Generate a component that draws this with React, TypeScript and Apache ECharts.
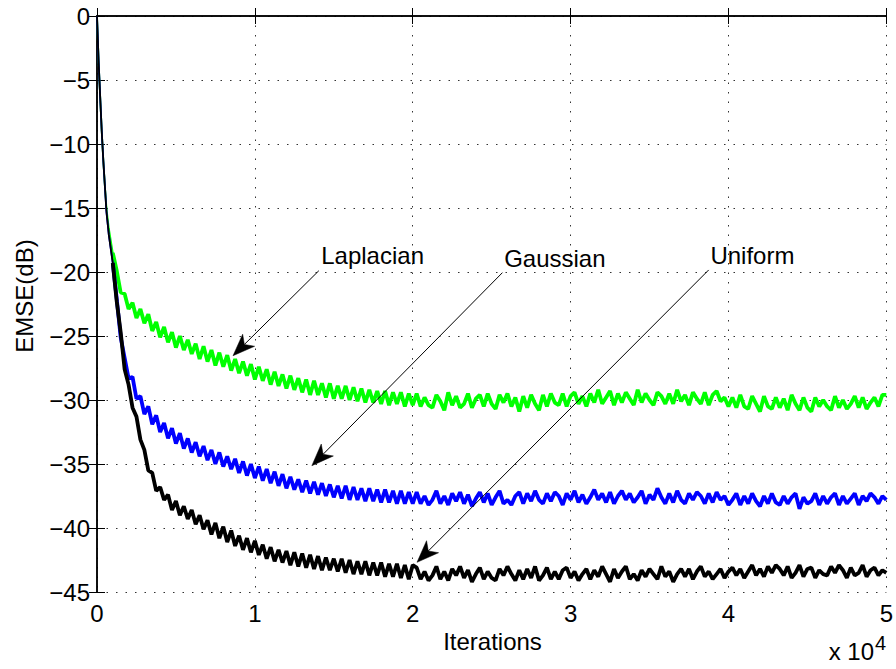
import { useEffect, useRef } from "react";
import * as echarts from "echarts";

// Iterations at which the learning curves were recorded: a few early points,
// then one point every 250 iterations up to 50 000.
const earlyIterations = [0, 100, 200, 300, 400, 500, 600, 750, 1000];
const sampleStep = 250;

// EMSE (dB) of the adaptive filter for the three input noise distributions.
const laplacianEmse = [
  0, -3.5, -6.3, -9.0, -11.3, -13.3, -15.0, -16.6, -18.5,
  -19.9, -21.6, -21.7, -22.9,
  -22.4, -23.6, -22.9, -24.0,
  -23.3, -24.6, -23.9, -25.1,
  -24.3, -25.5, -24.7, -25.9,
  -25.0, -26.1, -25.3, -26.4,
  -25.6, -26.8, -25.8, -27.0,
  -26.1, -27.3, -26.3, -27.4,
  -26.5, -27.7, -26.8, -27.9,
  -27.0, -28.1, -27.2, -28.4,
  -27.4, -28.5, -27.6, -28.8,
  -27.8, -28.9, -28.0, -29.1,
  -28.1, -29.2, -28.3, -29.4,
  -28.4, -29.6, -28.5, -29.6,
  -28.7, -29.8, -28.7, -29.9,
  -28.9, -29.9, -28.9, -30.0,
  -29.0, -30.1, -29.1, -30.2,
  -29.2, -30.2, -29.3, -30.3,
  -29.3, -30.4, -29.4, -30.3,
  -29.4, -30.5, -29.5, -30.4,
  -29.5, -30.5, -29.8, -30.4,
  -30.6, -29.6, -30.1, -30.8,
  -29.4, -30.4, -29.7, -30.6,
  -30.3, -29.5, -30.6, -29.9,
  -29.6, -30.5, -29.5, -30.3,
  -30.7, -29.6, -30.2, -29.5,
  -30.5, -29.8, -30.9, -29.7,
  -30.6, -29.6, -30.3, -30.8,
  -29.6, -30.5, -29.5, -30.2,
  -30.4, -29.5, -30.5, -29.7,
  -29.4, -30.3, -29.7, -30.5,
  -29.5, -30.2, -29.2, -30.3,
  -29.8, -29.3, -30.4, -29.5,
  -30.2, -29.4, -29.9, -30.4,
  -29.2, -30.2, -29.5, -30.0,
  -30.4, -29.4, -29.7, -30.3,
  -29.5, -30.3, -29.2, -30.1,
  -29.6, -30.4, -29.4, -29.9,
  -30.3, -29.4, -30.4, -29.6,
  -29.3, -30.1, -29.8, -30.5,
  -29.8, -30.6, -29.6, -30.5,
  -30.7, -29.7, -30.3, -30.9,
  -29.7, -30.5, -30.7, -29.8,
  -30.6, -29.9, -30.8, -29.6,
  -30.3, -30.8, -29.8, -30.6,
  -30.9, -29.8, -30.5, -30.0,
  -30.5, -30.8, -29.7, -30.6,
  -30.0, -30.7, -30.3, -29.7,
  -30.6, -29.8, -30.7, -30.2,
  -29.8, -30.5, -29.6, -29.6,
];

const gaussianEmse = [
  0, -3.5, -6.3, -9.0, -11.3, -13.3, -15.3, -17.1, -19.3,
  -22.1, -25.1, -26.7, -28.3,
  -28.2, -29.9, -29.7, -31.1,
  -30.5, -31.9, -31.2, -32.5,
  -31.8, -33.0, -32.2, -33.4,
  -32.6, -33.8, -33.0, -34.1,
  -33.3, -34.4, -33.6, -34.7,
  -33.9, -35.0, -34.1, -35.2,
  -34.4, -35.4, -34.6, -35.7,
  -34.8, -35.9, -35.0, -36.1,
  -35.2, -36.3, -35.4, -36.5,
  -35.6, -36.7, -35.8, -36.9,
  -36.0, -37.0, -36.2, -37.2,
  -36.3, -37.3, -36.4, -37.4,
  -36.5, -37.5, -36.6, -37.6,
  -36.7, -37.7, -36.7, -37.8,
  -36.8, -37.8, -36.9, -37.9,
  -36.9, -37.9, -37.0, -38.0,
  -37.0, -38.0, -37.1, -38.1,
  -37.1, -38.1, -37.2, -38.1,
  -37.2, -38.1, -37.5, -38.2,
  -37.8, -37.1, -38.1, -37.5,
  -38.2, -37.3, -37.9, -37.2,
  -38.1, -37.4, -38.3, -37.7,
  -37.2, -38.0, -37.3, -38.2,
  -37.6, -37.1, -38.1, -37.8,
  -38.2, -37.5, -37.2, -38.1,
  -37.3, -37.9, -37.1, -37.8,
  -38.1, -37.3, -37.9, -37.2,
  -37.5, -38.2, -37.3, -37.8,
  -37.1, -38.0, -37.4, -38.1,
  -37.6, -37.0, -37.8, -37.3,
  -38.0, -37.2, -38.1, -37.5,
  -37.1, -37.8, -37.3, -38.0,
  -37.6, -37.1, -38.1, -37.4,
  -37.8, -36.9, -37.6, -38.1,
  -37.3, -38.0, -37.1, -37.8,
  -38.1, -37.3, -37.8, -37.2,
  -37.5, -38.1, -37.3, -38.0,
  -37.2, -37.8, -37.5, -38.2,
  -37.8, -37.3, -38.2, -37.5,
  -38.1, -37.3, -37.9, -38.3,
  -37.5, -38.1, -37.3, -38.0,
  -38.2, -37.5, -38.1, -37.6,
  -37.3, -38.5, -37.6, -38.1,
  -37.9, -37.3, -38.2, -37.5,
  -38.1, -37.6, -37.3, -38.2,
  -37.5, -38.1, -37.7, -37.3,
  -38.2, -37.5, -37.9, -37.3,
  -37.6, -38.1, -37.5, -37.8,
];

const uniformEmse = [
  0, -3.5, -6.3, -9.0, -11.3, -13.3, -15.3, -17.1, -19.3,
  -22.3, -24.7, -27.6, -28.8,
  -30.6, -31.3, -33.1, -33.9,
  -35.5, -35.7, -37.1, -36.8,
  -37.8, -37.4, -38.6, -37.9,
  -39.0, -38.3, -39.3, -38.6,
  -39.7, -39.0, -40.1, -39.4,
  -40.5, -39.6, -40.8, -39.9,
  -41.1, -40.2, -41.4, -40.6,
  -41.7, -40.8, -41.9, -41.0,
  -42.1, -41.3, -42.4, -41.5,
  -42.6, -41.7, -42.7, -41.8,
  -42.9, -41.9, -43.0, -42.0,
  -43.1, -42.1, -43.2, -42.2,
  -43.3, -42.3, -43.3, -42.4,
  -43.4, -42.4, -43.5, -42.5,
  -43.6, -42.6, -43.6, -42.6,
  -43.7, -42.7, -43.7, -42.7,
  -43.8, -42.8, -43.8, -42.8,
  -43.9, -42.9, -44.0, -42.9,
  -43.1, -44.0, -43.4, -44.1,
  -43.7, -43.0, -44.0, -43.4,
  -44.1, -43.2, -43.7, -43.0,
  -43.9, -43.3, -44.2, -43.6,
  -43.1, -44.0, -43.4, -43.9,
  -44.1, -43.2, -43.7, -43.0,
  -43.6, -44.1, -43.3, -44.0,
  -43.2, -43.9, -43.0, -44.1,
  -43.7, -43.1, -44.0, -43.4,
  -44.0, -43.3, -43.1, -43.9,
  -43.4, -44.1, -43.6, -43.2,
  -44.0, -43.3, -43.8, -43.0,
  -43.6, -44.2, -43.2, -43.9,
  -43.4, -43.0, -44.0, -43.6,
  -44.1, -43.3, -43.8, -43.2,
  -43.6, -44.0, -43.0, -43.8,
  -43.4, -44.2, -43.6, -43.2,
  -43.8, -43.2, -44.0, -43.4,
  -43.0, -43.8, -43.4, -44.0,
  -43.6, -43.2, -43.9, -43.4,
  -43.1, -43.7, -43.2, -43.9,
  -43.4, -42.9, -43.7, -43.2,
  -43.8, -43.0, -43.5, -42.9,
  -43.2, -43.7, -43.0, -43.9,
  -43.5, -42.9, -43.8, -43.2,
  -43.1, -43.9, -43.3, -43.6,
  -43.7, -43.0, -43.5, -42.9,
  -43.3, -43.9, -43.1, -43.7,
  -43.5, -42.9, -43.8, -43.3,
  -43.1, -43.7, -43.3, -43.5,
];

const seriesNames = ["Laplacian", "Gaussian", "Uniform"];
const seriesColors = ["#00ff00", "#0000ff", "#000000"];

// Arrow annotations, in data coordinates: [iterations, EMSE dB].
const labelAnchors = [
  [14204, -18.71],
  [25790, -18.97],
  [38856, -18.71],
];
const arrowTails = [
  [14052, -19.9],
  [25683, -20.05],
  [38748, -19.84],
];
const arrowTips = [
  [8616, -26.54],
  [13610, -35.13],
  [20272, -42.68],
];

const FONT = "'Liberation Sans', Arial, Helvetica, sans-serif";

function withIterations(values: number[]): number[][] {
  const nEarly = earlyIterations.length;
  const last = earlyIterations[nEarly - 1];
  return values.map((v, i) => [
    i < nEarly ? earlyIterations[i] : last + (i - nEarly + 1) * sampleStep,
    v,
  ]);
}

export default function App() {
  const ref = useRef<HTMLDivElement>(null);

  useEffect(() => {
    if (!ref.current) return;
    const chart = echarts.init(ref.current, null, { renderer: "svg" });

    const tickLabel = { color: "#000", fontSize: 24, fontFamily: FONT };
    const gridDots = {
      show: true,
      lineStyle: { color: "#333", width: 1, type: [1.5, 8] as number[] },
    };
    const frame = { show: true, lineStyle: { color: "#000", width: 1.5 } };
    const innerTick = { show: true, inside: true, length: 8, lineStyle: { color: "#000", width: 1 } };

    const curves = [laplacianEmse, gaussianEmse, uniformEmse];
    const nEarly = earlyIterations.length;

    // Each curve: a thin stroke for the fast initial transient, then a
    // heavier stroke for the noisy steady-state part.
    const series: any[] = [];
    curves.forEach((vals, k) => {
      const pts = withIterations(vals);
      series.push({
        name: seriesNames[k],
        type: "line",
        data: pts.slice(0, nEarly + 1),
        showSymbol: false,
        symbol: "none",
        lineStyle: { color: seriesColors[k], width: 1.8 },
        z: 2 + k,
        silent: true,
      });
      series.push({
        name: seriesNames[k],
        type: "line",
        data: pts.slice(nEarly - 1),
        showSymbol: false,
        symbol: "none",
        lineStyle: { color: seriesColors[k], width: 3.8, join: "bevel" },
        z: 2 + k,
        silent: true,
      });
    });

    chart.setOption({
      animation: false,
      backgroundColor: "#fff",
      grid: { left: 97, right: 8, top: 16, bottom: 77, containLabel: false },
      xAxis: [
        {
          type: "value",
          min: 0,
          max: 50000,
          interval: 10000,
          position: "bottom",
          axisLine: frame,
          axisTick: innerTick,
          splitLine: gridDots,
          axisLabel: {
            ...tickLabel,
            margin: 9,
            formatter: (v: number) => String(v / 10000),
          },
        },
        {
          type: "value",
          min: 0,
          max: 50000,
          interval: 10000,
          position: "top",
          axisLine: frame,
          axisTick: innerTick,
          splitLine: { show: false },
          axisLabel: { show: false },
        },
      ],
      yAxis: [
        {
          type: "value",
          min: -45,
          max: 0,
          interval: 5,
          position: "left",
          axisLine: frame,
          axisTick: innerTick,
          splitLine: gridDots,
          axisLabel: {
            ...tickLabel,
            margin: 7,
            formatter: (v: number) => (v < 0 ? `\u2212${-v}` : `${v}`),
          },
        },
        {
          type: "value",
          min: -45,
          max: 0,
          interval: 5,
          position: "right",
          axisLine: frame,
          axisTick: innerTick,
          splitLine: { show: false },
          axisLabel: { show: false },
        },
      ],
      series,
    });

    // Annotation arrows and their labels, placed from data coordinates.
    const graphics: any[] = [];
    seriesNames.forEach((name, k) => {
      const tail = chart.convertToPixel({ seriesIndex: 0 }, arrowTails[k]) as number[];
      const tip = chart.convertToPixel({ seriesIndex: 0 }, arrowTips[k]) as number[];
      const anchor = chart.convertToPixel({ seriesIndex: 0 }, labelAnchors[k]) as number[];
      const dx = tip[0] - tail[0];
      const dy = tip[1] - tail[1];
      const len = Math.hypot(dx, dy);
      const ux = dx / len;
      const uy = dy / len;
      const nx = -uy;
      const ny = ux;
      const headLen = 22;
      const notch = 16;
      const halfW = 8.5;
      const back = [tip[0] - ux * headLen, tip[1] - uy * headLen];
      const notchPt = [tip[0] - ux * notch, tip[1] - uy * notch];
      graphics.push({
        type: "line",
        z: 10,
        shape: { x1: tail[0], y1: tail[1], x2: notchPt[0], y2: notchPt[1] },
        style: { stroke: "#000", lineWidth: 1 },
      });
      graphics.push({
        type: "polygon",
        z: 10,
        shape: {
          points: [
            tip,
            [back[0] + nx * halfW, back[1] + ny * halfW],
            notchPt,
            [back[0] - nx * halfW, back[1] - ny * halfW],
          ],
        },
        style: { fill: "#000", stroke: "#000", lineWidth: 0.5 },
      });
      graphics.push({
        type: "text",
        z: 10,
        x: anchor[0],
        y: anchor[1],
        style: {
          text: name,
          fill: "#000",
          fontSize: 24,
          fontFamily: FONT,
          align: "left",
          verticalAlign: "middle",
        },
      });
    });

    // Axis titles and the x-axis exponent.
    graphics.push(
      {
        type: "text",
        x: 492.5,
        y: 641.7,
        style: { text: "Iterations", fill: "#000", fontSize: 24, fontFamily: FONT, align: "center", verticalAlign: "middle" },
      },
      {
        type: "text",
        x: 24,
        y: 296,
        rotation: Math.PI / 2,
        style: { text: "EMSE(dB)", fill: "#000", fontSize: 24, fontFamily: FONT, align: "center", verticalAlign: "middle" },
      },
      {
        type: "text",
        x: 874,
        y: 651,
        style: { text: "x 10", fill: "#000", fontSize: 24, fontFamily: FONT, align: "right", verticalAlign: "middle" },
      },
      {
        type: "text",
        x: 875,
        y: 643,
        style: { text: "4", fill: "#000", fontSize: 20, fontFamily: FONT, align: "left", verticalAlign: "middle" },
      }
    );

    chart.setOption({ graphic: graphics });

    return () => chart.dispose();
  }, []);

  return (
    <div
      ref={ref}
      style={{ position: "absolute", left: 0, top: 0, width: 896, height: 669, background: "#fff" }}
    />
  );
}
